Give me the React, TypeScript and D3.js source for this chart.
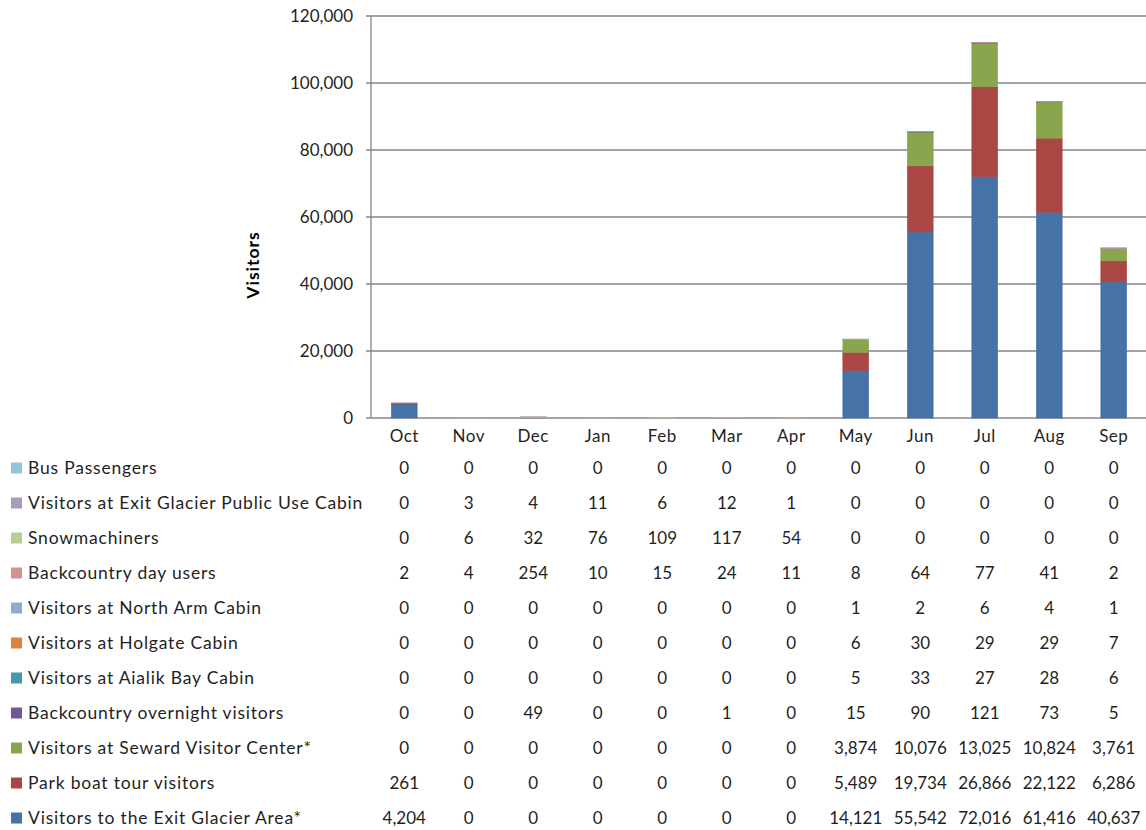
import React from "react";
import * as d3 from "d3";

const months = ["Oct", "Nov", "Dec", "Jan", "Feb", "Mar", "Apr", "May", "Jun", "Jul", "Aug", "Sep"];

const exitGlacierArea = [4204, 0, 0, 0, 0, 0, 0, 14121, 55542, 72016, 61416, 40637];
const parkBoatTour = [261, 0, 0, 0, 0, 0, 0, 5489, 19734, 26866, 22122, 6286];
const sewardVisitorCenter = [0, 0, 0, 0, 0, 0, 0, 3874, 10076, 13025, 10824, 3761];
const backcountryOvernight = [0, 0, 49, 0, 0, 1, 0, 15, 90, 121, 73, 5];
const aialikBayCabin = [0, 0, 0, 0, 0, 0, 0, 5, 33, 27, 28, 6];
const holgateCabin = [0, 0, 0, 0, 0, 0, 0, 6, 30, 29, 29, 7];
const northArmCabin = [0, 0, 0, 0, 0, 0, 0, 1, 2, 6, 4, 1];
const backcountryDayUsers = [2, 4, 254, 10, 15, 24, 11, 8, 64, 77, 41, 2];
const snowmachiners = [0, 6, 32, 76, 109, 117, 54, 0, 0, 0, 0, 0];
const exitGlacierCabin = [0, 3, 4, 11, 6, 12, 1, 0, 0, 0, 0, 0];
const busPassengers = [0, 0, 0, 0, 0, 0, 0, 0, 0, 0, 0, 0];

const yTicks = [0, 20000, 40000, 60000, 80000, 100000, 120000];

// bottom-to-top stacking order
const series = [
  { name: "Visitors to the Exit Glacier Area*", values: exitGlacierArea, color: "#4572A7" },
  { name: "Park boat tour visitors", values: parkBoatTour, color: "#AA4643" },
  { name: "Visitors at Seward Visitor Center*", values: sewardVisitorCenter, color: "#89A54E" },
  { name: "Backcountry overnight visitors", values: backcountryOvernight, color: "#71588F" },
  { name: "Visitors at Aialik Bay Cabin", values: aialikBayCabin, color: "#4198AF" },
  { name: "Visitors at Holgate Cabin", values: holgateCabin, color: "#DB843D" },
  { name: "Visitors at North Arm Cabin", values: northArmCabin, color: "#93A9CF" },
  { name: "Backcountry day users", values: backcountryDayUsers, color: "#D19392" },
  { name: "Snowmachiners", values: snowmachiners, color: "#B9CD96" },
  { name: "Visitors at Exit Glacier Public Use Cabin", values: exitGlacierCabin, color: "#A99BBD" },
  { name: "Bus Passengers", values: busPassengers, color: "#92C5D9" },
];

const W = 1146;
const H = 830;
const FONT = "Lato, 'Open Sans', sans-serif";
const TEXT = "#1f1f1f";

export default function App() {
  const x = d3.scaleBand<string>().domain(months).range([372, 1146]).paddingInner(0.6).paddingOuter(0.3);
  const y = d3.scaleLinear().domain([0, 120000]).range([418, 16]);
  const fmt = d3.format(",");

  const table = months.map((m, i) => {
    const row: Record<string, number | string> = { month: m };
    series.forEach((s, k) => (row["s" + k] = s.values[i]));
    return row;
  });
  const stack = d3.stack<any>().keys(series.map((_, k) => "s" + k));
  const stacked = stack(table);

  const rowsTopDown = [...series].reverse();
  const rowY = d3.scalePoint<number>().domain(d3.range(rowsTopDown.length)).range([468, 818]);
  const colCenter = (m: string) => (x(m) as number) + x.bandwidth() / 2;

  return (
    <svg width={W} height={H} style={{ position: "absolute", left: 0, top: 0, background: "#fff" }} fontFamily={FONT}>
      {/* gridlines */}
      {yTicks.map((t) => (
        <line key={t} x1={366} x2={W} y1={y(t)} y2={y(t)} stroke="#868686" strokeWidth={1.3} />
      ))}
      <line x1={371} x2={371} y1={y(120000)} y2={y(0)} stroke="#868686" strokeWidth={1.3} />
      {/* y tick labels */}
      {yTicks.map((t) => (
        <text key={"l" + t} x={353} y={y(t)} dy="0.35em" textAnchor="end" fontSize={17} fill={TEXT}>
          {fmt(t)}
        </text>
      ))}
      <text transform={`translate(259,265) rotate(-90)`} textAnchor="middle" fontSize={17.5} letterSpacing={1} fontWeight="bold" fill="#000">
        Visitors
      </text>
      {/* bars */}
      {stacked.map((layer, k) => (
        <g key={k} fill={series[k].color} stroke={series[k].color} strokeWidth={0.6}>
          {layer.map((d, i) =>
            d[1] - d[0] > 0 ? (
              <rect key={i} x={x(months[i])} width={x.bandwidth()} y={y(d[1])} height={y(d[0]) - y(d[1])} />
            ) : null
          )}
        </g>
      ))}
      {/* category labels */}
      {months.map((m) => (
        <text key={m} x={colCenter(m)} y={436} dy="0.35em" textAnchor="middle" fontSize={17} letterSpacing={0.5} fill={TEXT}>
          {m}
        </text>
      ))}
      {/* data table */}
      {rowsTopDown.map((s, r) => (
        <g key={s.name}>
          <rect x={11} y={(rowY(r) as number) - 5.5} width={11} height={11} fill={s.color} />
          <text x={28} y={rowY(r)} dy="0.35em" fontSize={17.5} letterSpacing={0.8} fill={TEXT}>
            {s.name}
          </text>
          {months.map((m, i) => (
            <text key={m} x={colCenter(m)} y={rowY(r)} dy="0.35em" textAnchor="middle" fontSize={17} fill={TEXT}>
              {fmt(s.values[i])}
            </text>
          ))}
        </g>
      ))}
    </svg>
  );
}
